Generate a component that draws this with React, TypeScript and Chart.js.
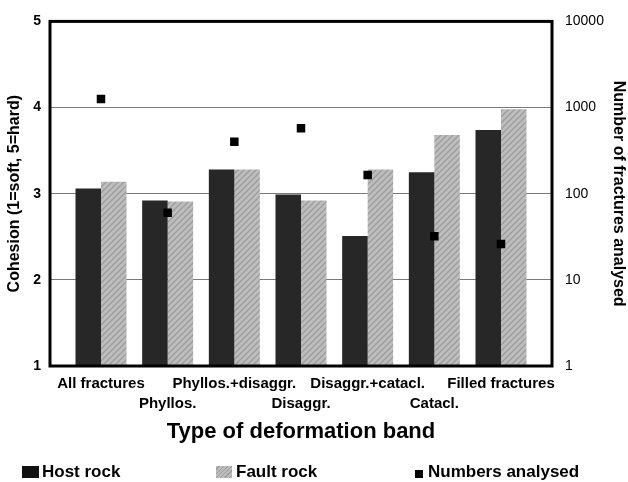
import React, { useEffect, useRef } from "react";
import { Chart, registerables } from "chart.js";

Chart.register(...registerables);

const categories = [
  "All fractures",
  "Phyllos.",
  "Phyllos.+disaggr.",
  "Disaggr.",
  "Disaggr.+catacl.",
  "Catacl.",
  "Filled fractures",
];
const hostRock = [3.06, 2.92, 3.28, 2.99, 2.51, 3.25, 3.74];
const faultRock = [3.14, 2.91, 3.28, 2.92, 3.28, 3.68, 3.98];
const numbersAnalysed = [1260, 60, 400, 575, 165, 32, 26];
const cohesionTicks = [1, 2, 3, 4, 5];
const countTicks = [1, 10, 100, 1000, 10000];

const FONT = "'Liberation Sans', Arial, Helvetica, sans-serif";

function makeHatch(): CanvasPattern | string {
  const c = document.createElement("canvas");
  c.width = 6;
  c.height = 6;
  const g = c.getContext("2d");
  if (!g) return "#b0b0b0";
  g.fillStyle = "#bdbdbd";
  g.fillRect(0, 0, 6, 6);
  g.strokeStyle = "#9c9c9c";
  g.lineWidth = 1.3;
  g.beginPath();
  g.moveTo(0, 6);
  g.lineTo(6, 0);
  g.moveTo(-3, 3);
  g.lineTo(3, -3);
  g.moveTo(3, 9);
  g.lineTo(9, 3);
  g.stroke();
  return g.createPattern(c, "repeat") || "#b0b0b0";
}

const boxPlugin = {
  id: "plotBox",
  afterDatasetsDraw(chart: any) {
    const { ctx, chartArea } = chart;
    const { left, top, right, bottom } = chartArea;
    ctx.save();
    ctx.strokeStyle = "#000";
    ctx.lineWidth = 3;
    ctx.strokeRect(left, top, right - left, bottom - top);
    ctx.restore();
  },
};

export default function App() {
  const ref = useRef<HTMLCanvasElement | null>(null);

  useEffect(() => {
    if (!ref.current) return;
    const hatch = makeHatch();
    const chart = new Chart(ref.current, {
      type: "bar",
      data: {
        datasets: [
          {
            label: "Host rock",
            data: hostRock.map((v, i) => ({ x: i, y: v })),
            backgroundColor: "#272727",
            borderWidth: 0,
            yAxisID: "y",
            order: 2,
          },
          {
            label: "Fault rock",
            data: faultRock.map((v, i) => ({ x: i, y: v })),
            backgroundColor: hatch as any,
            borderWidth: 0,
            yAxisID: "y",
            order: 2,
          },
          {
            type: "scatter",
            label: "Numbers analysed",
            data: numbersAnalysed.map((v, i) => ({ x: i, y: v })),
            backgroundColor: "#000",
            borderColor: "#000",
            pointStyle: "rect",
            pointRadius: 6,
            pointBorderWidth: 0,
            showLine: false,
            yAxisID: "y2",
            order: 1,
          } as any,
        ],
      },
      options: {
        animation: false,
        responsive: false,
        maintainAspectRatio: false,
        layout: { padding: { top: 18, left: 0, right: 0, bottom: 0 } },
        datasets: {
          bar: { categoryPercentage: 0.765, barPercentage: 1.0, grouped: true },
        } as any,
        plugins: {
          legend: { display: false },
          tooltip: { enabled: false },
        },
        scales: {
          x: {
            type: "linear",
            min: -0.765,
            max: 6.765,
            offset: false,
            afterBuildTicks: (s: any) => {
              s.ticks = categories.map((_, i) => ({ value: i }));
            },
            afterFit: (s: any) => {
              s.height = 116;
            },
            grid: { display: false, drawTicks: false, tickLength: 0 },
            border: { display: false },
            ticks: {
              autoSkip: false,
              maxRotation: 0,
              minRotation: 0,
              padding: 8,
              color: "#000",
              font: { family: FONT, size: 15, weight: "bold", lineHeight: 1.333 },
              callback: (v: any) => {
                const i = Math.round(Number(v));
                return i % 2 === 0 ? categories[i] : ["", categories[i]];
              },
            },
            title: {
              display: true,
              text: "Type of deformation band",
              color: "#000",
              font: { family: FONT, size: 22, weight: "bold", lineHeight: 1.2 },
              padding: { top: 0, bottom: 37 },
            },
          },
          y: {
            type: "linear",
            position: "left",
            min: 1,
            max: 5,
            afterBuildTicks: (s: any) => {
              s.ticks = cohesionTicks.map((v) => ({ value: v }));
            },
            afterFit: (s: any) => {
              s.width = 50;
            },
            grid: {
              color: (c: any) =>
                c.tick && (c.tick.value === 1 || c.tick.value === 5) ? "rgba(0,0,0,0)" : "#7a7a7a",
              lineWidth: 1,
              drawTicks: false,
              tickLength: 0,
            },
            border: { display: false },
            ticks: {
              padding: 9,
              color: "#000",
              font: { family: FONT, size: 14, weight: "bold" },
            },
            title: {
              display: true,
              text: "Cohesion (1=soft, 5=hard)",
              color: "#000",
              font: { family: FONT, size: 16, weight: "bold", lineHeight: 1.2 },
              padding: { top: 5, bottom: 0 },
            },
          },
          y2: {
            type: "logarithmic",
            position: "right",
            min: 1,
            max: 10000,
            afterBuildTicks: (s: any) => {
              s.ticks = countTicks.map((v) => ({ value: v }));
            },
            afterFit: (s: any) => {
              s.width = 76;
            },
            grid: { display: false, drawTicks: false, tickLength: 0 },
            border: { display: false },
            ticks: {
              padding: 13,
              color: "#000",
              font: { family: FONT, size: 14 },
              callback: (v: any) => String(v),
            },
            title: {
              display: true,
              text: "Number of fractures analysed",
              color: "#000",
              font: { family: FONT, size: 16, weight: "bold", lineHeight: 1.2 },
              padding: { top: 0, bottom: 0 },
            },
          },
        },
      },
      plugins: [boxPlugin],
    } as any);
    return () => chart.destroy();
  }, []);

  const legendText: React.CSSProperties = {
    position: "absolute",
    top: 462,
    fontFamily: FONT,
    fontWeight: "bold",
    fontSize: 17,
    lineHeight: "20px",
    color: "#000",
    whiteSpace: "nowrap",
  };

  return (
    <div
      style={{
        position: "fixed",
        left: 0,
        top: 0,
        width: 628,
        height: 482,
        background: "#fff",
        overflow: "hidden",
      }}
    >
      <canvas ref={ref} width={628} height={482} style={{ display: "block" }} />
      <div style={{ position: "absolute", left: 22, top: 466, width: 17, height: 12, background: "#111" }} />
      <div style={{ ...legendText, left: 42 }}>Host rock</div>
      <div
        style={{
          position: "absolute",
          left: 216,
          top: 466,
          width: 16,
          height: 12,
          background: "repeating-linear-gradient(135deg, #bdbdbd 0px, #bdbdbd 2px, #9c9c9c 2px, #9c9c9c 3px)",
        }}
      />
      <div style={{ ...legendText, left: 236 }}>Fault rock</div>
      <div style={{ position: "absolute", left: 415, top: 470, width: 8, height: 8, background: "#000" }} />
      <div style={{ ...legendText, left: 428 }}>Numbers analysed</div>
    </div>
  );
}
